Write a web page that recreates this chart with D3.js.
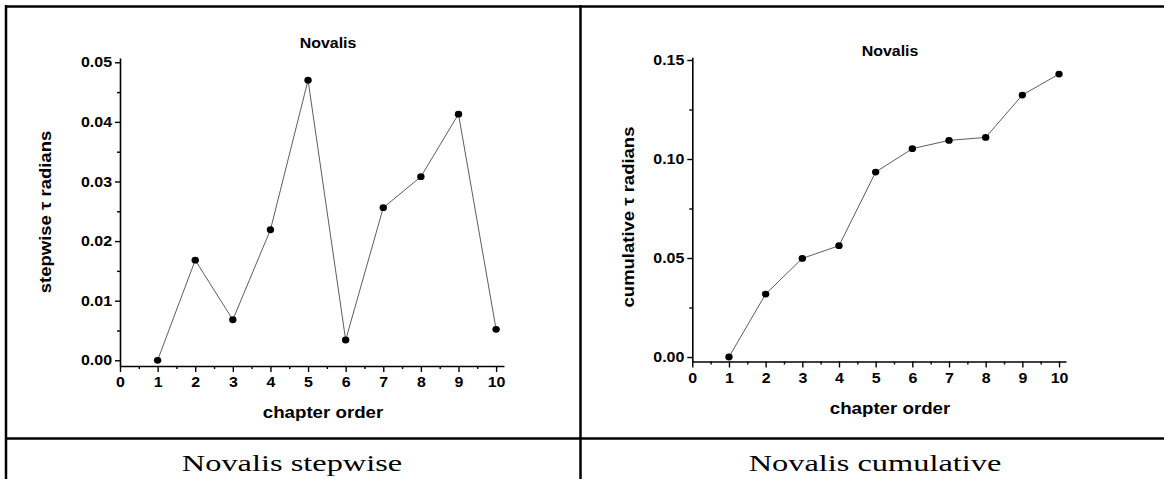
<!DOCTYPE html>
<html>
<head>
<meta charset="utf-8">
<script src="https://cdn.jsdelivr.net/npm/d3@7"></script>
<style>
  body { margin: 0; background: #fff; }
  svg { display: block; }
</style>
</head>
<body>
<div class="plot"></div>
<script>
// data
const chapters = [1, 2, 3, 4, 5, 6, 7, 8, 9, 10];
const stepwise = [0.0000, 0.0168, 0.0068, 0.0219, 0.0470, 0.0034, 0.0256, 0.0308, 0.0413, 0.0052];
const cumulative = [0.0000, 0.0318, 0.0498, 0.0562, 0.0934, 0.1052, 0.1094, 0.1109, 0.1323, 0.1429];
const xTicks = [0, 1, 2, 3, 4, 5, 6, 7, 8, 9, 10];
const xMinor = [0.5, 1.5, 2.5, 3.5, 4.5, 5.5, 6.5, 7.5, 8.5, 9.5];
const stepTicks = [0, 0.01, 0.02, 0.03, 0.04, 0.05];
const stepMinor = [0.005, 0.015, 0.025, 0.035, 0.045];
const cumTicks = [0, 0.05, 0.10, 0.15];
const cumMinor = [0.025, 0.075, 0.125];
const plotTitle = "Novalis";
const xTitle = "chapter order";
const captions = ["Novalis stepwise", "Novalis cumulative"];

const W = 1164, H = 479;
const SX = 1.1; // text in the picture is a little wide

const svg = d3.select(".plot")
  .append("svg")
    .attr("width", W)
    .attr("height", H);

// text helper: horizontal stretch around its anchor point
function label(g, x, y, txt, size, anchor, rot, sx) {
  return g.append("text")
    .attr("transform", `translate(${x},${y}) scale(${sx || SX},1)` + (rot ? ` rotate(${rot})` : ""))
    .attr("text-anchor", anchor)
    .style("font-family", "Arial, 'Liberation Sans', sans-serif")
    .style("font-weight", "bold")
    .style("font-size", size + "px")
    .text(txt);
}

function stretchTicks(sel) {
  sel.selectAll("text").each(function() {
    const t = d3.select(this);
    const x = +t.attr("x") || 0;
    t.attr("x", x / SX).attr("transform", `scale(${SX},1)`);
  });
}

// panel settings (pixel layout only)
const panels = [
  {
    values: stepwise, ticks: stepTicks, minor: stepMinor,
    xRange: [120, 504], xDom: [0, 10.21],
    yRange: [366, 58], yDom: [-0.00096, 0.05072],
    yLabel: "stepwise \u03c4  radians", yLabelX: 51, yLabelY: 212,
    titleX: 328, titleY: 48, xTitleX: 323, xTitleY: 418
  },
  {
    values: cumulative, ticks: cumTicks, minor: cumMinor,
    xRange: [692.3, 1066], xDom: [0, 10.19],
    yRange: [361.5, 57.3], yDom: [-0.00227, 0.15136],
    yLabel: "cumulative \u03c4  radians", yLabelX: 633.5, yLabelY: 217,
    titleX: 890, titleY: 55.5, xTitleX: 890, xTitleY: 414
  }
];

panels.forEach(p => {
  const g = svg.append("g");
  const x = d3.scaleLinear().domain(p.xDom).range(p.xRange);
  const y = d3.scaleLinear().domain(p.yDom).range(p.yRange);
  const xAxisY = p.yRange[0];
  const yAxisX = p.xRange[0];

  // x axis, major then minor ticks
  const xa = g.append("g")
    .attr("transform", `translate(0,${xAxisY})`)
    .call(d3.axisBottom(x).tickValues(xTicks).tickSize(6).tickSizeOuter(0).tickPadding(5)
      .tickFormat(d3.format("d")));
  g.append("g")
    .attr("transform", `translate(0,${xAxisY})`)
    .call(d3.axisBottom(x).tickValues(xMinor).tickSize(3).tickSizeOuter(0).tickFormat(""))
    .select(".domain").remove();

  // y axis
  const ya = g.append("g")
    .attr("transform", `translate(${yAxisX},0)`)
    .call(d3.axisLeft(y).tickValues(p.ticks).tickSize(5).tickSizeOuter(0).tickPadding(3)
      .tickFormat(d3.format(".2f")));
  g.append("g")
    .attr("transform", `translate(${yAxisX},0)`)
    .call(d3.axisLeft(y).tickValues(p.minor).tickSize(3).tickSizeOuter(0).tickFormat(""))
    .select(".domain").remove();

  g.selectAll(".domain").attr("stroke", "#000").attr("stroke-width", 1.6);
  g.selectAll(".tick line").attr("stroke", "#000").attr("stroke-width", 1.4);
  g.selectAll(".tick text")
    .attr("fill", "#000")
    .style("font-family", "Arial, 'Liberation Sans', sans-serif")
    .style("font-weight", "bold")
    .style("font-size", "14.5px");
  stretchTicks(xa);
  stretchTicks(ya);

  // connecting line and dots
  const line = d3.line()
    .x((d, i) => x(chapters[i]))
    .y(d => y(d));
  g.append("path")
    .datum(p.values)
    .attr("fill", "none")
    .attr("stroke", "#333")
    .attr("stroke-width", 0.8)
    .attr("d", line);
  g.selectAll("ellipse")
    .data(p.values)
    .enter()
    .append("ellipse")
      .attr("cx", (d, i) => x(chapters[i]))
      .attr("cy", d => y(d))
      .attr("rx", 3.7)
      .attr("ry", 3.4)
      .attr("fill", "#000");

  // titles
  label(g, p.titleX, p.titleY, plotTitle, 14.5, "middle");
  label(g, p.xTitleX, p.xTitleY, xTitle, 17, "middle");
  label(g, p.yLabelX, p.yLabelY, p.yLabel, 18.5, "middle", -90, 0.92);
});

// table lines round the two cells
const grid = svg.append("g").attr("stroke", "#000").attr("stroke-width", 2.5);
grid.append("line").attr("x1", 6).attr("x2", W).attr("y1", 6.5).attr("y2", 6.5);
grid.append("line").attr("x1", 6).attr("x2", W).attr("y1", 438.5).attr("y2", 438.5);
grid.append("line").attr("x1", 6).attr("x2", 6).attr("y1", 5).attr("y2", H);
grid.append("line").attr("x1", 580.5).attr("x2", 580.5).attr("y1", 5).attr("y2", H);

// captions under the charts
const capX = [292, 875];
captions.forEach((c, i) => {
  svg.append("text")
    .attr("transform", `translate(${capX[i]},470.5) scale(1.35,1)`)
    .attr("text-anchor", "middle")
    .style("font-family", "'Liberation Serif', 'Times New Roman', serif")
    .style("font-size", "24px")
    .text(c);
});
</script>
</body>
</html>
